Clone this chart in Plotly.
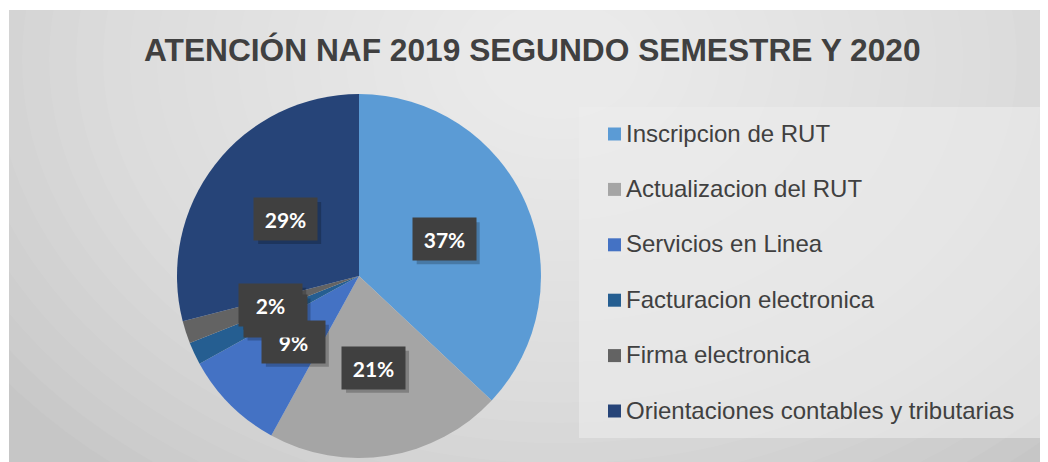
import math
import plotly.graph_objects as go

# ---- data ----
categories = [
    "Inscripcion de RUT",
    "Actualizacion del RUT",
    "Servicios en Linea",
    "Facturacion electronica",
    "Firma electronica",
    "Orientaciones contables y tributarias",
]
values = [37, 21, 9, 2, 2, 29]
colors = ["#5B9BD5", "#A5A5A5", "#4472C4", "#255E91", "#636363", "#264478"]
title_text = "ATENCIÓN NAF 2019 SEGUNDO SEMESTRE Y 2020"

W, H = 1048, 462
OFF = 8  # page body margin


def px(x):
    return (x - OFF) / W


def py(y):
    return 1 - (y - OFF) / H


# pie geometry (pixels, page coordinates)
cx, cy, R = 359, 276, 182

fig = go.Figure()
fig.add_trace(go.Pie(
    labels=categories,
    values=values,
    marker=dict(colors=colors, line=dict(width=0)),
    sort=False,
    direction="clockwise",
    rotation=0,
    textinfo="none",
    hoverinfo="label+percent",
    showlegend=False,
    domain=dict(x=[px(cx - R), px(cx + R)], y=[py(cy + R), py(cy - R)]),
))

shapes = []
# background panel
shapes.append(dict(type="rect", xref="paper", yref="paper",
                   x0=px(9), x1=1, y0=0, y1=py(10),
                   fillcolor="#c6c6c6", line=dict(width=0), layer="below"))
# soft radial lightening (many faint layers)
n = 24
for k in range(n):
    r = 700 - k * 27
    shapes.append(dict(type="circle", xref="paper", yref="paper",
                       xsizemode="pixel", ysizemode="pixel",
                       xanchor=px(560), yanchor=py(60),
                       x0=-r, x1=r, y0=-r * 0.75, y1=r * 0.75,
                       fillcolor="rgba(255,255,255,0.055)", line=dict(width=0), layer="below"))
# legend box
shapes.append(dict(type="rect", xref="paper", yref="paper",
                   x0=px(579), x1=px(1044), y0=py(438), y1=py(107),
                   fillcolor="rgba(236,236,236,0.6)", line=dict(width=0), layer="below"))

annotations = []
# title
annotations.append(dict(text=f"<b>{title_text}</b>", xref="paper", yref="paper",
                        x=px(532), y=py(50), xanchor="center", yanchor="middle",
                        showarrow=False,
                        font=dict(family="Liberation Sans, Arial", size=31.7, color="#404040")))

# data labels (boxed) computed from cumulative values
total = sum(values)
cum = 0
label_items = []
for v in values:
    mid = (cum + v / 2) / total * 2 * math.pi
    cum += v
    lx = cx + 0.51 * R * math.sin(mid)
    ly = cy - 0.51 * R * math.cos(mid)
    label_items.append((lx, ly, f"{round(100 * v / total)}%"))

for lx, ly, t in label_items:
    # soft drop shadow
    shapes.append(dict(type="rect", xref="paper", yref="paper", layer="above",
                       xsizemode="pixel", ysizemode="pixel",
                       xanchor=px(lx + 4), yanchor=py(ly + 4),
                       x0=-31.5, x1=31.5, y0=-21, y1=21,
                       fillcolor="rgba(0,0,0,0.22)", line=dict(width=0)))
    annotations.append(dict(text=f"<b>{t}</b>", xref="paper", yref="paper",
                            x=px(lx), y=py(ly), xanchor="center", yanchor="middle",
                            showarrow=False,
                            bgcolor="#404040", width=47, height=26, borderpad=8,
                            font=dict(family="Lato", size=21, color="white")))

# manual legend
for i, (name, col) in enumerate(zip(categories, colors)):
    yc = 133 + i * 55.4
    shapes.append(dict(type="rect", xref="paper", yref="paper",
                       xsizemode="pixel", ysizemode="pixel",
                       xanchor=px(614.5), yanchor=py(yc + 1),
                       x0=-6.5, x1=6.5, y0=-6.5, y1=6.5,
                       fillcolor=col, line=dict(width=0)))
    annotations.append(dict(text=name, xref="paper", yref="paper",
                            x=px(624), y=py(yc), xanchor="left", yanchor="middle",
                            showarrow=False,
                            font=dict(family="Liberation Sans, Arial", size=24, color="#404040")))

fig.update_layout(
    width=W, height=H, autosize=False,
    margin=dict(l=0, r=0, t=0, b=0),
    paper_bgcolor="white",
    plot_bgcolor="rgba(0,0,0,0)",
    shapes=shapes,
    annotations=annotations,
    showlegend=False,
)

fig.write_html("out.html")
